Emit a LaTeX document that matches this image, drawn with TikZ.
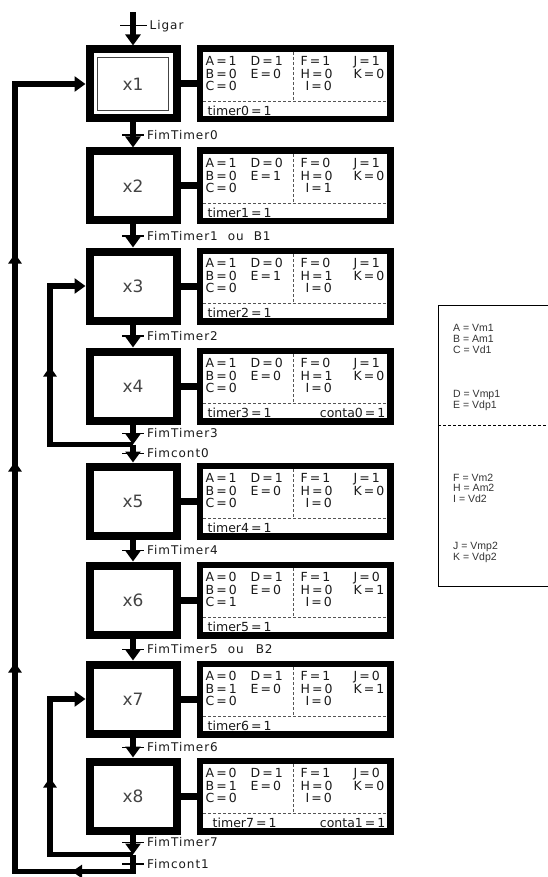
\documentclass[tikz,border=0pt]{standalone}
\usepackage{fontspec}
\setmainfont{DejaVu Sans}
\newfontfamily\rotfont[LetterSpace=8]{DejaVu Sans}
\newfontfamily\legfont{Liberation Sans}
\usetikzlibrary{
  arrows.meta,
  positioning,
  calc,
  decorations.markings
}
\definecolor{grTexto}{HTML}{1A1A1A}
\definecolor{grEtapa}{HTML}{444444}
\definecolor{grTraco}{HTML}{555555}
\newcommand{\fonteval}{\fontsize{12.5}{12.5}\selectfont\spaceskip=2pt\relax}
\newcommand{\fonteleg}{\legfont\fontsize{10.5}{10.6}\selectfont}
\tikzset{
  ponta/.tip={Triangle[width=13pt, length=10pt]},
  etapa/.style={
    draw, line width=8pt, minimum width=87pt, minimum height=69pt,
    inner sep=0pt, text=grEtapa, font=\fontsize{17}{17}\selectfont
  },
  acao/.style={draw, line width=6.5pt, minimum width=190.5pt, minimum height=70.5pt, inner sep=0pt},
  valores/.style={anchor=north west, inner sep=0pt, align=left, text=grTexto, font=\fonteval},
  divisoria/.style={grTraco, line width=1pt, dash pattern=on 3.3pt off 1.7pt},
  moldura/.style={draw=grEtapa, line width=1pt},
  ligacao/.style={line width=7pt},
  fluxo/.style={line width=6pt, -{Triangle[width=15pt, length=11pt]}},
  laco/.style={line width=5.5pt, -{Triangle[width=15pt, length=11pt]}, postaction={decorate}},
  transicao/.style={fill=black, minimum width=22pt, minimum height=1.6pt, inner sep=0pt, outer sep=0pt},
  rotulo/.style={font=\rotfont\fontsize{12}{12}\selectfont, text=grTexto, inner xsep=3pt, inner ysep=0pt},
  legenda/.style={draw, line width=1.3pt, minimum width=150pt, minimum height=281pt, anchor=north west, inner sep=0pt},
  legtexto/.style={anchor=north west, inner sep=0pt, align=left, text=black!80, font=\fonteleg}
}
% conteudo de uma caixa de acoes
\newcommand{\conteudo}[7]{%
  \node[valores] (#1-c1) at ($(#1.north west)+(9,10.9)$) {#2};
  \node[valores] (#1-c2) at ($(#1.north west)+(54,10.9)$) {#3};
  \node[valores] (#1-c3) at ($(#1.north west)+(104,10.9)$) {#4};
  \node[valores] (#1-c4) at ($(#1.north west)+(157,10.9)$) {#5};
  \node[valores, anchor=base west] (#1-t) at ($(#1.north west)+(11,70)$) {#6};
  \node[valores, anchor=base east] (#1-k) at ($(#1.north east)+(-8,70)$) {#7};
  \draw[divisoria] ($(#1.north west)+(6.5,56)$) -- ($(#1.north east)+(-6.5,56)$);
  \draw[divisoria] ($(#1.north west)+(97,6.5)$) -- ($(#1.north west)+(97,56)$);
}

\begin{document}
\begin{tikzpicture}[x=1pt, y=-1pt]
  \useasboundingbox[fill=white] (0,0) rectangle (547,877);

  % etapas
  \node[etapa] (x1) at (133,84) {x1};
  \node[etapa, below=25pt of x1] (x2) {x2};
  \node[etapa, below=23pt of x2] (x3) {x3};
  \node[etapa, below=23pt of x3] (x4) {x4};
  \node[etapa, below=38pt of x4] (x5) {x5};
  \node[etapa, below=22pt of x5] (x6) {x6};
  \node[etapa, below=22pt of x6] (x7) {x7};
  \node[etapa, below=20pt of x7] (x8) {x8};
  \draw[moldura] ($(x1.north west)+(12,12)$) rectangle ($(x1.south east)+(-12,-12)$);

  % acoes
  \foreach \n in {1,...,8}{
    \node[acao, right=16pt of x\n] (a\n) {};
    \draw[ligacao] (x\n) -- (a\n);
  }
  \conteudo{a1}{A = 1\\B = 0\\C = 0}{D = 1\\E = 0}{F = 1\\H = 0\\\kern5pt I = 0}{J = 1\\K = 0}{timer0 = 1}{}
  \conteudo{a2}{A = 1\\B = 0\\C = 0}{D = 0\\E = 1}{F = 0\\H = 0\\\kern5pt I = 1}{J = 1\\K = 0}{timer1 = 1}{}
  \conteudo{a3}{A = 1\\B = 0\\C = 0}{D = 0\\E = 1}{F = 0\\H = 1\\\kern5pt I = 0}{J = 1\\K = 0}{timer2 = 1}{}
  \conteudo{a4}{A = 1\\B = 0\\C = 0}{D = 0\\E = 0}{F = 0\\H = 1\\\kern5pt I = 0}{J = 1\\K = 0}{timer3 = 1}{conta0 = 1}
  \conteudo{a5}{A = 1\\B = 0\\C = 0}{D = 1\\E = 0}{F = 1\\H = 0\\\kern5pt I = 0}{J = 1\\K = 0}{timer4 = 1}{}
  \conteudo{a6}{A = 0\\B = 0\\C = 1}{D = 1\\E = 0}{F = 1\\H = 0\\\kern5pt I = 0}{J = 0\\K = 1}{timer5 = 1}{}
  \conteudo{a7}{A = 0\\B = 1\\C = 0}{D = 1\\E = 0}{F = 1\\H = 0\\\kern5pt I = 0}{J = 0\\K = 1}{timer6 = 1}{}
  \conteudo{a8}{A = 0\\B = 1\\C = 0}{D = 1\\E = 0}{F = 1\\H = 0\\\kern5pt I = 0}{J = 0\\K = 0}{\kern5pt timer7 = 1}{conta1 = 1}

  % transicoes
  \coordinate[above=33pt of x1] (inicio);
  \node[transicao, minimum width=27pt, label={[rotulo]right:Ligar}] (t0) at ($(inicio)!0.4!(x1.north)$) {};
  \draw[fluxo] (inicio) -- (x1);
  \foreach \a/\b/\txt in {x1/x2/FimTimer0, x2/x3/{FimTimer1\kern10pt ou\kern10pt B1},
                          x3/x4/FimTimer2, x5/x6/FimTimer4,
                          x6/x7/{FimTimer5\kern10pt ou\kern12pt B2}, x7/x8/FimTimer6}{
    \node[transicao, label={[rotulo]right:\txt}] (t-\a) at ($(\a.south)!0.5!(\b.north)$) {};
    \draw[fluxo] (\a) -- (\b);
  }
  \coordinate[below=20pt of x4] (j4);
  \node[transicao, label={[rotulo]right:FimTimer3}] (t-x4) at ($(x4.south)!0.45!(j4)$) {};
  \draw[fluxo] (x4) -- (j4);
  \node[transicao, label={[rotulo]right:Fimcont0}] (c0) at ($(j4)!0.5!(x5.north)$) {};
  \draw[fluxo] (j4) -- (x5);
  \coordinate[below=20pt of x8] (j8);
  \node[transicao, label={[rotulo]right:FimTimer7}] (t-x8) at ($(x8.south)!0.4!(j8)$) {};
  \draw[fluxo] (x8) -- (j8);
  \coordinate[below=17pt of j8] (base);
  \node[transicao, label={[rotulo]right:Fimcont1}] (c1) at ($(j8)!0.55!(base)$) {};

  % retornos
  \coordinate (ri) at (50,0);
  \coordinate (re) at (15,0);
  \draw[laco, decoration={markings, mark=at position 161pt with {\arrow{ponta}}}]
    (j4) -| (ri |- x3.west) -- (x3.west);
  \draw[laco, decoration={markings, mark=at position 160pt with {\arrow{ponta}}}]
    (j8) -| (ri |- x7.west) -- (x7.west);
  \draw[laco, decoration={markings,
      mark=at position 78pt with {\arrow{ponta}},
      mark=at position 344pt with {\arrow{ponta}},
      mark=at position 545pt with {\arrow{ponta}},
      mark=at position 753pt with {\arrow{ponta}}}]
    (j8) -- (base) -| (re |- x1.west) -- (x1.west);

  % legenda
  \node[legenda] (leg) at (438,305) {};
  \draw[line width=1pt, dash pattern=on 3.3pt off 1.7pt] ($(leg.north west)+(0,120)$) -- ($(leg.north east)+(0,120)$);
  \node[legtexto] (leg1) at (453,324.5) {A = Vm1\\B = Am1\\C = Vd1\\[34pt]D = Vmp1\\E = Vdp1};
  \node[legtexto] (leg2) at (453,473.5) {F = Vm2\\H = Am2\\I = Vd2\\[37pt]J = Vmp2\\K = Vdp2};
\end{tikzpicture}
\end{document}
